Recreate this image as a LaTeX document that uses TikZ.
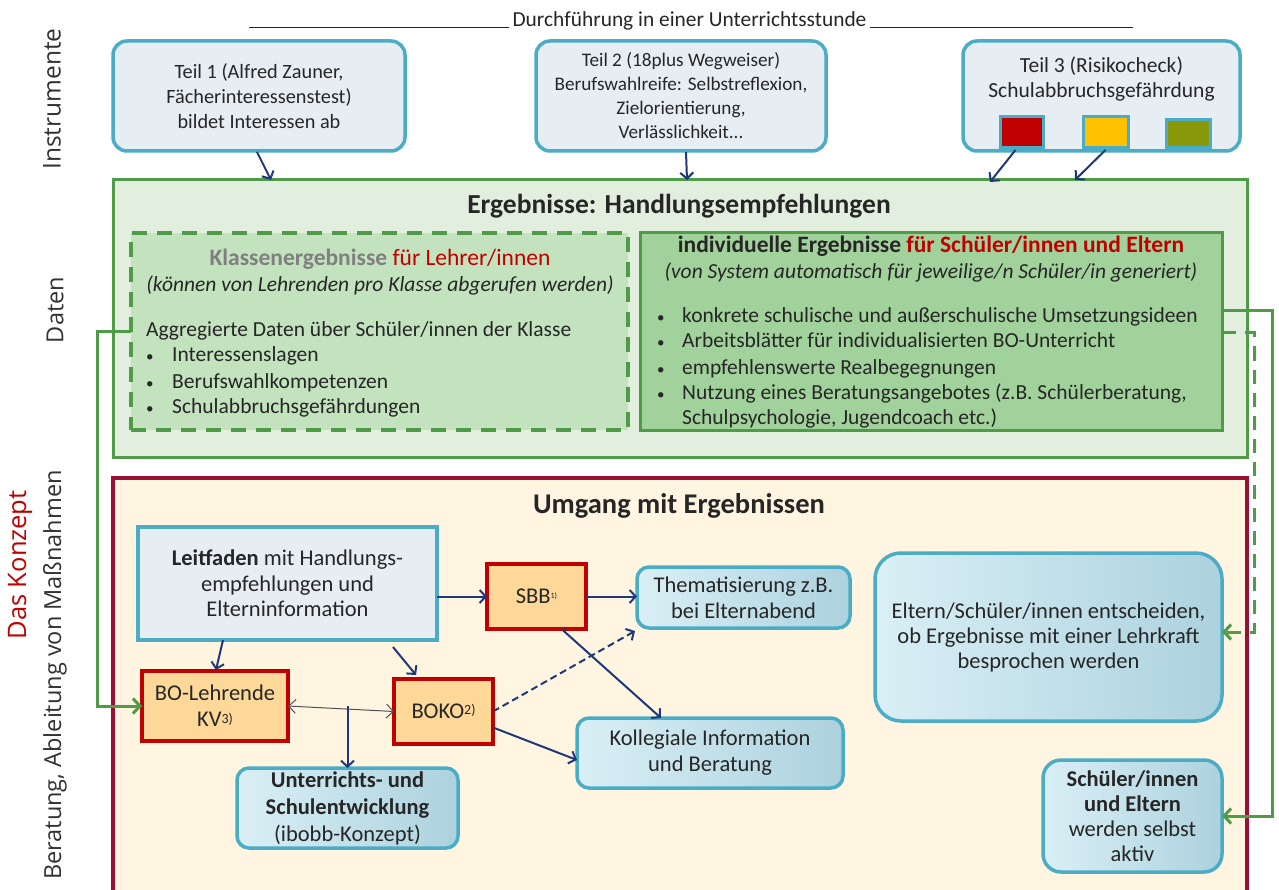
\documentclass[tikz,border=0pt]{standalone}
\usepackage{fontspec}
\setmainfont{Carlito}
\newfontfamily\labfont{Open Sans}
\usetikzlibrary{arrows.meta}
\definecolor{navyc}{RGB}{31,56,120}
\definecolor{tealc}{RGB}{75,172,198}
\definecolor{topfill}{RGB}{230,238,244}
\definecolor{greenc}{RGB}{80,155,72}
\definecolor{ergfill}{RGB}{226,239,222}
\definecolor{klfill}{RGB}{195,226,190}
\definecolor{indfill}{RGB}{161,210,155}
\definecolor{umgfill}{RGB}{255,245,225}
\definecolor{umgborder}{RGB}{155,15,50}
\definecolor{redc}{RGB}{192,0,0}
\definecolor{orfill}{RGB}{254,216,153}
\definecolor{gradl}{RGB}{218,239,246}
\definecolor{gradr}{RGB}{172,210,222}
\definecolor{txt}{RGB}{38,38,38}
\definecolor{grayt}{RGB}{128,128,128}
\definecolor{yellc}{RGB}{255,192,0}
\definecolor{olivec}{RGB}{138,153,10}
\definecolor{labc}{RGB}{50,50,50}
\newcommand{\fs}[2]{\fontsize{#1}{#2}\selectfont}
\newcommand{\bl}{\makebox[26pt][l]{\fs{15}{15}•}}
\begin{document}
\begin{tikzpicture}[x=1pt,y=-1pt,
  box/.style={anchor=north west, inner sep=0pt, outer sep=0pt, align=center, text=txt},
  topbox/.style={box, draw=tealc, line width=3.5pt, rounded corners=14pt, fill=topfill, font=\fs{20.3}{25}},
  sqbox/.style={box, draw=tealc, line width=3pt, minimum width=43pt, minimum height=31pt},
  redbox/.style={box, draw=redc, line width=4pt, fill=orfill, font=\fs{22.5}{26}},
  bluebox/.style={box, draw=tealc, line width=3.5pt, rounded corners=12pt, left color=gradl, right color=gradr, font=\fs{22.5}{26}},
  arr/.style={draw=navyc, line width=2pt, -{Straight Barb[length=6pt,width=13pt]}},
  garr/.style={draw=greenc, line width=3pt, -{Straight Barb[length=7pt,width=15pt]}},
  lab/.style={rotate=90, font=\labfont\fs{23.5}{28}, text=labc, inner sep=0pt},
  line/.style={anchor=base west, inner sep=0pt, text=txt, font=\fs{21.5}{25}},
  cline/.style={anchor=base, inner sep=0pt, text=txt, font=\fs{21.5}{25}},
  bul/.style={anchor=base west, inner sep=0pt, text=txt, font=\fs{21.5}{25}}
]
\clip (0,0) rectangle (1279,890);
\fill[white] (0,0) rectangle (1279,890);

% heading
\node[anchor=base, inner sep=0pt, text=txt, font=\fs{21.4}{24}] (head) at (689.5,27) {Durchführung in einer Unterrichtsstunde};
\draw[txt, line width=0.9pt] ([xshift=-3pt]head.base west) -- ++(-260,0);
\draw[txt, line width=0.9pt] ([xshift=3pt]head.base east) -- ++(263,0);

% side labels
\node[lab, font=\labfont\fs{24.5}{28}] (linst) at (52,99) {Instrumente};
\node[lab] (ldat) at (55,310) {Daten};
\node[lab, text=redc, font=\labfont\fs{25.5}{28}] (lkon) at (20,565) {Das Konzept};
\node[lab] (lber) at (55,675) {Beratung, Ableitung von Maßnahmen};

% top boxes
\node[topbox, minimum width=292pt, minimum height=110pt] (t1) at (113,41)
  {Teil 1 (Alfred Zauner,\\Fächerinteressenstest)\\bildet Interessen ab};
\node[topbox, font=\fs{19.2}{24}, minimum width=290pt, minimum height=110pt] (t2) at (536,41)
  {Teil 2 (18plus Wegweiser)\\Berufswahlreife: Selbstreflexion,\\Zielorientierung,\\Verlässlichkeit...};
\node[topbox, minimum width=277pt, minimum height=110pt] (t3) at (963,41) {};
\node[anchor=north, inner sep=0pt, align=center, text=txt, font=\fs{21.5}{25}] (t3t) at (1101.5,57)
  {Teil 3 (Risikocheck)\\Schulabbruchsgefährdung};
\node[sqbox, fill=redc] (sqr) at (1000,117) {};
\node[sqbox, fill=yellc, minimum width=45pt] (sqy) at (1083,117) {};
\node[sqbox, fill=olivec, minimum width=44pt, minimum height=28pt] (sqo) at (1166,120) {};

% Ergebnisse
\node[box, draw=greenc, line width=3pt, fill=ergfill, minimum width=1134pt, minimum height=277pt] (erg) at (113,180) {};
\node[anchor=base, inner sep=0pt, text=txt, font=\bfseries\fs{27.5}{30}] (ergt) at (679,214) {Ergebnisse: Handlungsempfehlungen};

\node[box, draw=greenc, line width=3.5pt, dash pattern=on 15pt off 10pt, fill=klfill, minimum width=497pt, minimum height=197pt] (kl) at (131,233) {};
\node[cline, font=\fs{23.5}{26}] (klt) at (380,266) {\textbf{\textcolor{grayt}{Klassenergebnisse}} \textcolor{redc}{für Lehrer/innen}};
\node[cline] (kli) at (380,292) {\itshape (können von Lehrenden pro Klasse abgerufen werden)};
\node[line] (kla) at (146,337) {Aggregierte Daten über Schüler/innen der Klasse};
\node[bul] (klb1) at (146,362) {\bl Interessenslagen};
\node[bul] (klb2) at (146,388) {\bl Berufswahlkompetenzen};
\node[bul] (klb3) at (146,413) {\bl Schulabbruchsgefährdungen};

\node[box, draw=greenc, line width=3pt, fill=indfill, minimum width=582pt, minimum height=197pt] (ind) at (640,233) {};
\node[cline, font=\fs{23.5}{26}] (indt) at (931,253) {\textbf{individuelle Ergebnisse \textcolor{redc}{für Schüler/innen und Eltern}}};
\node[cline] (indi) at (931,279) {\itshape (von System automatisch für jeweilige/n Schüler/in generiert)};
\node[bul] (ib1) at (657,323) {\makebox[25pt][l]{\fs{15}{15}•}konkrete schulische und außerschulische Umsetzungsideen};
\node[bul] (ib2) at (657,348) {\makebox[25pt][l]{\fs{15}{15}•}Arbeitsblätter für individualisierten BO-Unterricht};
\node[bul] (ib3) at (657,374) {\makebox[25pt][l]{\fs{15}{15}•}empfehlenswerte Realbegegnungen};
\node[bul] (ib4) at (657,399) {\makebox[25pt][l]{\fs{15}{15}•}Nutzung eines Beratungsangebotes (z.B. Schülerberatung,};
\node[bul] (ib5) at (682,424) {Schulpsychologie, Jugendcoach etc.)};

% Umgang
\node[box, draw=umgborder, line width=3.5pt, fill=umgfill, minimum width=1134pt, minimum height=420pt] (umg) at (113,478) {};
\node[anchor=base, inner sep=0pt, text=txt, font=\bfseries\fs{28.5}{30}] (umgt) at (679,513) {Umgang mit Ergebnissen};

\node[box, draw=tealc, line width=3.5pt, fill=topfill, minimum width=299pt, minimum height=113pt, font=\fs{22.5}{25.5}] (lf) at (138,527)
  {\textbf{Leitfaden} mit Handlungs-\\empfehlungen und\\Elterninformation};
\node[redbox, minimum width=99pt, minimum height=65pt] (sbb) at (487,564) {SBB\raisebox{5pt}{\fs{8}{8}1)}};
\node[bluebox, minimum width=213pt, minimum height=61pt] (them) at (637,567) {Thematisierung z.B.\\bei Elternabend};
\node[redbox, minimum width=146pt, minimum height=70pt] (bo) at (142,671) {BO-Lehrende\\KV\raisebox{3pt}{\fs{14}{14}3)}};
\node[redbox, minimum width=99pt, minimum height=65pt] (boko) at (394,679) {BOKO\raisebox{4pt}{\fs{14}{14}2)}};
\node[bluebox, minimum width=266pt, minimum height=70pt] (koll) at (577,718) {Kollegiale Information\\und Beratung};
\node[bluebox, font=\fs{22.5}{27}, minimum width=221pt, minimum height=80pt] (unter) at (237,768)
  {\textbf{Unterrichts- und}\\\textbf{Schulentwicklung}\\(ibobb-Konzept)};
\node[bluebox, font=\fs{22.5}{25}, rounded corners=26pt, minimum width=347pt, minimum height=168pt] (elt) at (875,553)
  {Eltern/Schüler/innen entscheiden,\\ob Ergebnisse mit einer Lehrkraft\\besprochen werden};
\node[bluebox, font=\fs{22.5}{25}, rounded corners=18pt, minimum width=179pt, minimum height=112pt] (sch) at (1043,760)
  {\textbf{Schüler/innen}\\\textbf{und Eltern}\\werden selbst\\aktiv};

% arrows top
\draw[arr] ([xshift=-2pt,yshift=-1pt]t1.south) -- ([xshift=-409pt]erg.north);
\draw[arr] ([xshift=5pt,yshift=-1pt]t2.south) -- ([xshift=7pt]erg.north);
\draw[arr] ([xshift=-6pt,yshift=-2pt]sqr.south) -- ([xshift=310pt,yshift=-2pt]erg.north);
\draw[arr] ([yshift=-2pt]sqy.south) -- ([xshift=395pt]erg.north);

% arrows bottom
\draw[arr] (lf.east |- sbb.west) -- (sbb.west);
\draw[arr] (sbb.east) -- (sbb.east -| them.west);
\draw[arr] ([xshift=25pt]sbb.south) -- ([xshift=-49pt]koll.north);
\draw[arr] ([xshift=-64.5pt]lf.south) -- ([xshift=1pt,yshift=1pt]bo.north);
\draw[arr] ([xshift=105.5pt,yshift=-7pt]lf.south) -- ([xshift=-27.5pt,yshift=4pt]boko.north);
\draw[draw=txt!80, line width=1pt, {Straight Barb[length=7pt,width=14pt]}-{Straight Barb[length=7pt,width=14pt]}] (bo.east) -- (boko.west);
\draw[arr] (bo.east -| unter.north) -- (unter.north);
\draw[arr, dashed, dash pattern=on 7pt off 4pt] (boko.east) -- ([xshift=-2pt,yshift=-3pt]them.south west);
\draw[arr] ([yshift=-16pt]boko.east) -- ([yshift=-7pt]koll.west);

% green connectors
\draw[garr] (kl.west) -| ([xshift=-45pt]bo.west) -- (bo.west);
\draw[garr] ([yshift=21pt]ind.east) -| ([xshift=50pt]sch.east) -- (sch.east);
\draw[garr, dash pattern=on 14pt off 9pt] ([yshift=-1pt]ind.east) -| ([xshift=32pt,yshift=5pt]elt.east) -- ([yshift=5pt]elt.east);
\end{tikzpicture}
\end{document}
